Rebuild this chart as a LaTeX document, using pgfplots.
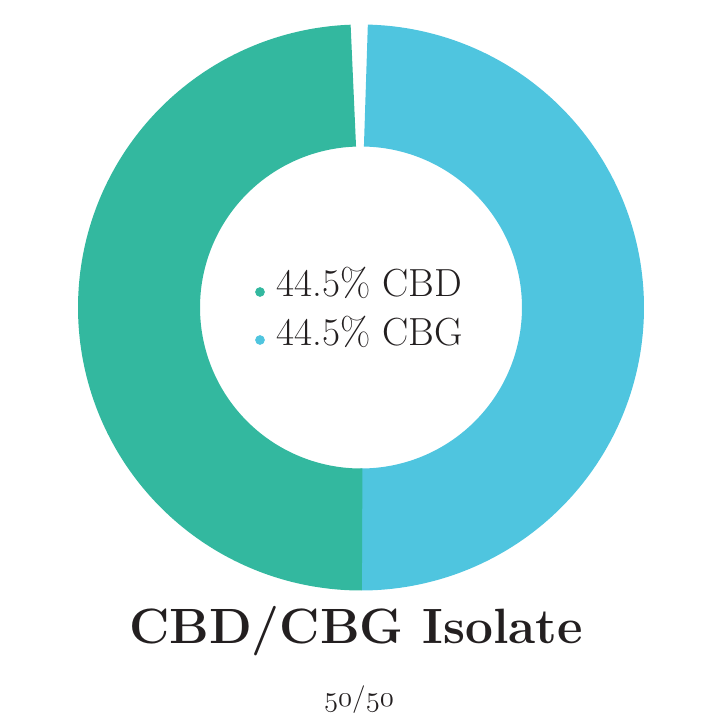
\documentclass[border=0pt]{standalone}
\usepackage{fontspec}
\usepackage{pgfplots}
\pgfplotsset{compat=1.18}
\usepackage{pgfplotstable}
\definecolor{cbd}{HTML}{33B89F}
\definecolor{cbg}{HTML}{4FC5DF}
\definecolor{ink}{HTML}{231F20}
\newcommand\osn[1]{{\usefont{OML}{lmm}{m}{it}#1}}
\pgfplotstableread{
name share
CBG 49.65
gap 0.90
CBD 49.45
}\shares
\begin{document}
\begin{tikzpicture}
\pgfplotstablegetelem{0}{share}\of\shares \let\sCBG\pgfplotsretval
\pgfplotstablegetelem{1}{share}\of\shares \let\sGap\pgfplotsretval
\pgfplotstablegetelem{2}{share}\of\shares \let\sCBD\pgfplotsretval
\pgfmathsetmacro\aA{-90}
\pgfmathsetmacro\aB{-90+3.6*\sCBG}
\pgfmathsetmacro\aC{\aB+3.6*\sGap}
\pgfmathsetmacro\aD{\aC+3.6*\sCBD+0.3}
\begin{axis}[hide axis, x=0.5pt, y=0.5pt, xmin=-361, xmax=359, ymin=-412.5, ymax=307.5, clip=false]
\path (axis cs:-361,-412.5) rectangle (axis cs:359,307.5);
\addplot[draw=cbg, line width=61pt, line cap=butt, line join=round, domain=\aA:\aB, samples=160, no markers] ({222*cos(x)},{222*sin(x)});
\addplot[draw=cbd, line width=61pt, line cap=butt, line join=round, domain=\aC:\aD, samples=160, no markers] ({222*cos(x)},{222*sin(x)});
\addplot[only marks, mark=*, mark size=2.2pt, color=cbd] coordinates {(-101,15.5)};
\addplot[only marks, mark=*, mark size=2.2pt, color=cbg] coordinates {(-101,-32.5)};
\node[anchor=base west, inner sep=0pt, text=ink, font=\fontsize{19.6}{21}\selectfont] at (axis cs:-84.5,10.5) {44.5\% CBD};
\node[anchor=base west, inner sep=0pt, text=ink, font=\fontsize{19.6}{21}\selectfont] at (axis cs:-84.5,-37.5) {44.5\% CBG};
\node[anchor=base, inner sep=0pt, text=ink, font=\fontsize{24.8}{28}\selectfont\bfseries] at (axis cs:-5,-336) {CBD/CBG Isolate};
\node[anchor=base, inner sep=0pt, text=ink, font=\fontsize{13.8}{15}\selectfont] at (axis cs:-2,-399) {\osn{50}/\osn{50}};
\end{axis}
\end{tikzpicture}
\end{document}
